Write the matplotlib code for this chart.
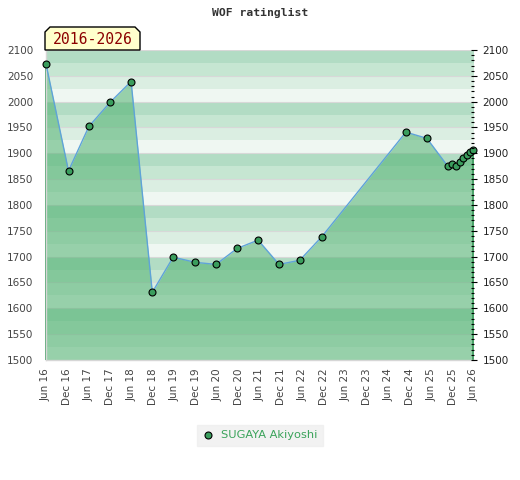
import matplotlib
matplotlib.use("Agg")
import matplotlib.pyplot as plt
import matplotlib.patches as mpatches
from matplotlib.ticker import MultipleLocator
import pandas as pd

# ---- data ----
title = "WOF ratinglist"
period_label = "2016-2026"
player = "SUGAYA Akiyoshi"
dates = ["2016-06-01", "2016-12-10", "2017-06-02", "2017-12-01", "2018-05-28",
         "2018-11-25", "2019-05-22", "2019-11-28", "2020-05-22", "2020-11-18",
         "2021-05-16", "2021-11-10", "2022-05-06", "2022-11-12", "2024-10-28",
         "2025-04-25", "2025-10-20", "2025-11-28", "2025-12-28", "2026-02-03",
         "2026-03-01", "2026-04-01", "2026-04-28", "2026-05-25"]
ratings = [2073, 1866, 1952, 1999, 2039,
           1631, 1699, 1689, 1685, 1716,
           1732, 1685, 1693, 1739, 1941,
           1929, 1875, 1879, 1876, 1883,
           1891, 1897, 1902, 1907]
tick_dates = pd.date_range("2016-06-01", "2026-06-01", freq="6MS")
tick_labels = [d.strftime("%b %y") for d in tick_dates]
y_min, y_max = 1500, 2100

x = pd.to_datetime(dates)

fig = plt.figure(figsize=(5.2, 4.8), dpi=100)
ax = fig.add_axes([46/520, 1-360/480, 428/520, 310/480])

# banded background
band_colors = ["#eff7f2", "#dbeee2", "#c6e6d2", "#b2dcc4"]
for lo in range(y_min, y_max, 25):
    ax.axhspan(lo, lo + 25, color=band_colors[((lo - y_min) % 100) // 25], lw=0, zorder=0)
for g in range(y_min, y_max + 1, 50):
    ax.axhline(g, color="#d8d8d8", lw=0.8, zorder=0.5)

ax.fill_between(x, ratings, y_min, color=(0.30, 0.69, 0.43), alpha=0.54, lw=0, zorder=1)
ax.vlines([x[0], x[-1]], y_min, [ratings[0], ratings[-1]], color="#3c9a5c", lw=1.2,
          zorder=2, clip_on=False)
ax.plot(x, ratings, color="#5fa3d9", lw=1.0, zorder=3)
ax.plot(x, ratings, ls="none", marker="o", ms=5, mfc="#3a9d5d", mec="black",
        mew=0.8, zorder=4, clip_on=False, label=player)

ax.set_xlim(tick_dates[0], tick_dates[-1])
ax.set_ylim(y_min, y_max)
ax.set_xticks(tick_dates)
ax.set_xticklabels(tick_labels, rotation=90, fontsize=7.5, color="#444444")
ax.tick_params(axis="x", length=0, pad=6)
ax.yaxis.set_major_locator(MultipleLocator(50))
ax.tick_params(axis="y", length=0, labelsize=7.5, labelcolor="#444444", pad=9)
for s in ["top", "right"]:
    ax.spines[s].set_visible(False)
for s in ["left", "bottom"]:
    ax.spines[s].set_color("#d6d6d6")
    ax.spines[s].set_linewidth(1.0)

ax2 = ax.twinx()
ax2.set_ylim(y_min, y_max)
ax2.yaxis.set_major_locator(MultipleLocator(50))
ax2.yaxis.set_minor_locator(MultipleLocator(10))
ax2.tick_params(axis="y", which="major", direction="inout", length=4, width=0.8,
                labelsize=7.5, labelcolor="#222222", pad=4)
ax2.tick_params(axis="y", which="minor", direction="in", length=2.5, width=0.8)
for s in ["top", "left", "bottom", "right"]:
    ax2.spines[s].set_visible(False)

fig.text(0.5, 1 - 13/480, title, ha="center", va="center",
         family="DejaVu Sans Mono", fontweight="bold", fontsize=8.2, color="#333333")

# period label box with cut top corners
W, H = 520, 480
x0, x1, yt, yb, c = 45, 140, 27, 50, 5
poly = [(x0, yb), (x0, yt + c), (x0 + c, yt), (x1 - c, yt), (x1, yt + c), (x1, yb)]
poly = [(px / W, 1 - py / H) for px, py in poly]
fig.patches.append(mpatches.Polygon(poly, closed=True, transform=fig.transFigure,
                                    facecolor="#ffffcc", edgecolor="black", lw=1.0,
                                    zorder=5))
fig.text((x0 + x1) / 2 / W, 1 - 40/480, period_label, ha="center", va="center",
         family="DejaVu Sans Mono", fontsize=10.6, color="#8b0000", zorder=6)

leg = fig.legend(loc="center", bbox_to_anchor=(260/520, 1 - 435.5/480), frameon=True,
                 fontsize=8.2, labelcolor="#3aa35a", handletextpad=0.6,
                 handlelength=1.0, borderpad=0.5, fancybox=False)
leg.get_frame().set_facecolor("#efefef")
leg.get_frame().set_edgecolor("#efefef")

fig.savefig("out.png", dpi=100)
